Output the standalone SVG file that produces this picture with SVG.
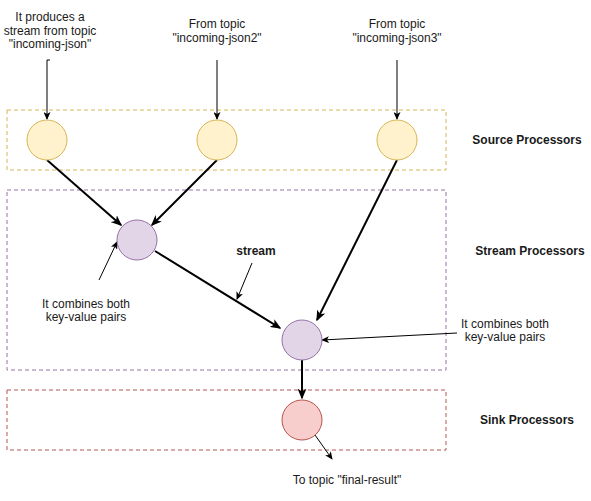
<svg xmlns="http://www.w3.org/2000/svg" width="591" height="501" viewBox="0 0 591 501">
<style>
text{font-family:"Liberation Sans",Arial,sans-serif;font-size:12px;fill:#1a1a1a;text-anchor:middle}
.b{font-weight:bold}
.box{fill:none;stroke-width:1;stroke-dasharray:4 3}
.src{fill:#fff2cc;stroke:#d6b656}
.str{fill:#e1d5e7;stroke:#9673a6}
.snk{fill:#f8cecc;stroke:#b85450}
.thin{fill:none;stroke:#000;stroke-width:1;marker-end:url(#a1)}
.thick{fill:none;stroke:#000;stroke-width:2;marker-end:url(#a2)}
</style>
<defs>
<marker id="a1" markerUnits="userSpaceOnUse" viewBox="0 0 8 7" refX="7" refY="3.5" markerWidth="8" markerHeight="7" orient="auto"><path d="M0,0 L8,3.5 L0,7 L2,3.5 Z" fill="#000"/></marker>
<marker id="a2" markerUnits="userSpaceOnUse" viewBox="0 0 11 9" refX="9.5" refY="4.5" markerWidth="11" markerHeight="9" orient="auto"><path d="M0,0 L11,4.5 L0,9 L3,4.5 Z" fill="#000"/></marker>
</defs>
<g id="containers">
<rect id="source-box" class="box" x="7" y="110" width="439" height="60" stroke="#d6b656"/>
<rect id="stream-box" class="box" x="7" y="190" width="439" height="180" stroke="#9673a6"/>
<rect id="sink-box" class="box" x="7" y="390" width="439" height="60" stroke="#b85450"/>
</g>
<g id="connectors">
<path class="thin" d="M50,60 H47 V119"/>
<path class="thin" d="M217,60 V119"/>
<path class="thin" d="M397,60 V119"/>
<path class="thick" d="M47,160 L121,225"/>
<path class="thick" d="M217,160 L152,225"/>
<path class="thick" d="M397,160 L317,320"/>
<path class="thick" d="M155,251 L280,328"/>
<path class="thick" d="M302,360 L302,398"/>
<path class="thin" d="M315,435 L332,459"/>
<path class="thin" d="M252,263 L237,299"/>
<path class="thin" d="M99,280 L117,242"/>
<path class="thin" d="M457,333 L322,340"/>
</g>
<g id="src1"><circle class="src" cx="47" cy="140" r="20"/></g>
<g id="src2"><circle class="src" cx="217" cy="140" r="20"/></g>
<g id="src3"><circle class="src" cx="397" cy="140" r="20"/></g>
<g id="proc1"><circle class="str" cx="137" cy="240" r="20"/></g>
<g id="proc2"><circle class="str" cx="302" cy="340" r="20"/></g>
<g id="sink"><circle class="snk" cx="302" cy="420" r="20"/></g>
<g id="labels">
<text x="50" y="21">It produces a</text>
<text x="50" y="35">stream from topic</text>
<text x="50" y="48">"incoming-json"</text>
<text x="217" y="28">From topic</text>
<text x="217" y="42">"incoming-json2"</text>
<text x="397" y="28">From topic</text>
<text x="397" y="42">"incoming-json3"</text>
<text class="b" x="527" y="144">Source Processors</text>
<text class="b" x="530" y="255">Stream Processors</text>
<text class="b" x="527" y="424">Sink Processors</text>
<text class="b" x="256" y="255">stream</text>
<text x="86" y="308">It combines both</text>
<text x="86" y="321">key-value pairs</text>
<text x="505" y="328">It combines both</text>
<text x="505" y="341">key-value pairs</text>
<text x="347" y="484">To topic "final-result"</text>
</g>
</svg>
